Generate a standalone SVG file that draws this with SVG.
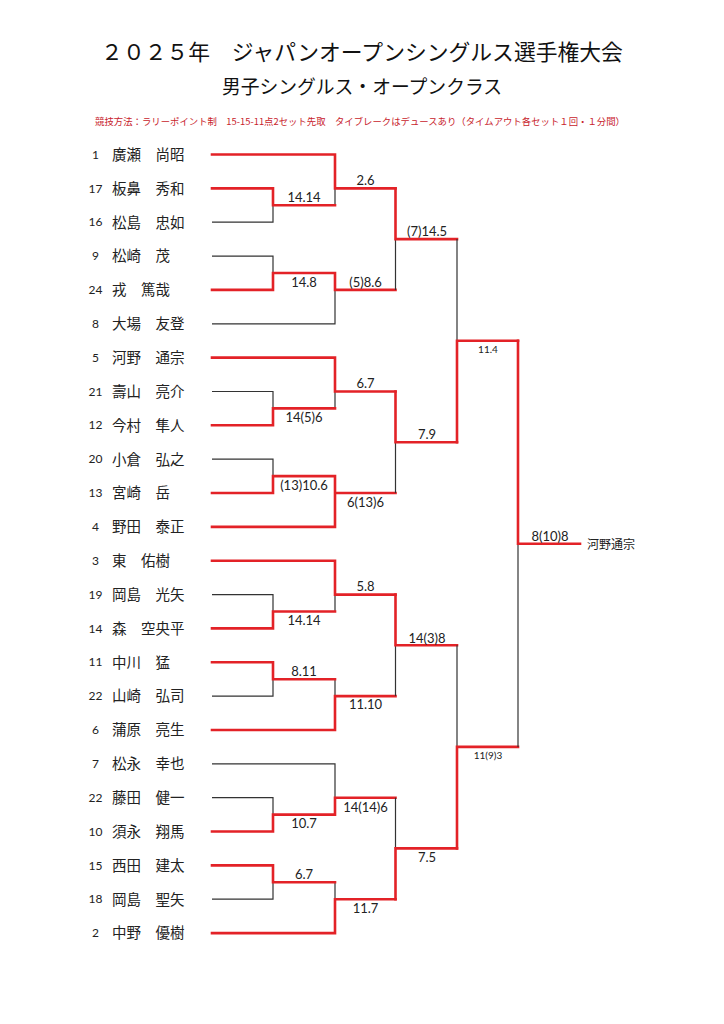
<svg xmlns="http://www.w3.org/2000/svg" width="724" height="1024" viewBox="0 0 724 1024">
<style>
  .title{font-family:"Noto Sans CJK JP","Noto Sans",sans-serif;fill:#111;text-anchor:middle}
  .rule{font-family:"Noto Sans CJK JP","Noto Sans",sans-serif;font-size:9.4px;fill:#c8232c;text-anchor:middle}
  .seed{font-family:Lato,"Liberation Sans",sans-serif;font-size:12px;fill:#222;text-anchor:middle}
  .name{font-family:"Noto Sans CJK JP",sans-serif;font-size:14.5px;fill:#222}
  .champ{font-family:"Noto Sans CJK JP",sans-serif;font-size:12px;fill:#222}
  .sc{font-family:Lato,"Liberation Sans",sans-serif;font-size:13px;fill:#222;text-anchor:middle}
  .ss{font-family:Lato,"Liberation Sans",sans-serif;font-size:10px;fill:#222;text-anchor:middle}
  .r{stroke:#e32227;stroke-width:2.6;fill:none;stroke-linecap:square}
  .k{stroke:#333;stroke-width:1.2;fill:none}
</style>
<rect width="724" height="1024" fill="#fff"/>
<g id="header">
  <text class="title" x="362" y="59.5" style="font-size:21.8px">２０２５年　ジャパンオープンシングルス選手権大会</text>
  <text class="title" x="362" y="94" style="font-size:18.8px">男子シングルス・オープンクラス</text>
  <text class="rule" x="360" y="124.5">競技方法：ラリーポイント制　15-15-11点2セット先取　タイブレークはデュースあり（タイムアウト各セット１回・１分間）</text>
</g>
<g id="players">
  <g id="p0"><text class="seed" x="95.5" y="158.6">1</text><text class="name" x="112" y="159.8">廣瀬　尚昭</text></g>
  <g id="p1"><text class="seed" x="95.5" y="192.5">17</text><text class="name" x="112" y="193.7">板鼻　秀和</text></g>
  <g id="p2"><text class="seed" x="95.5" y="226.3">16</text><text class="name" x="112" y="227.5">松島　忠如</text></g>
  <g id="p3"><text class="seed" x="95.5" y="260.2">9</text><text class="name" x="112" y="261.4">松崎　茂</text></g>
  <g id="p4"><text class="seed" x="95.5" y="294">24</text><text class="name" x="112" y="295.2">戎　篤哉</text></g>
  <g id="p5"><text class="seed" x="95.5" y="327.9">8</text><text class="name" x="112" y="329.1">大場　友登</text></g>
  <g id="p6"><text class="seed" x="95.5" y="361.7">5</text><text class="name" x="112" y="362.9">河野　通宗</text></g>
  <g id="p7"><text class="seed" x="95.5" y="395.6">21</text><text class="name" x="112" y="396.8">壽山　亮介</text></g>
  <g id="p8"><text class="seed" x="95.5" y="429.4">12</text><text class="name" x="112" y="430.6">今村　隼人</text></g>
  <g id="p9"><text class="seed" x="95.5" y="463.3">20</text><text class="name" x="112" y="464.5">小倉　弘之</text></g>
  <g id="p10"><text class="seed" x="95.5" y="497.1">13</text><text class="name" x="112" y="498.3">宮崎　岳</text></g>
  <g id="p11"><text class="seed" x="95.5" y="531">4</text><text class="name" x="112" y="532.2">野田　泰正</text></g>
  <g id="p12"><text class="seed" x="95.5" y="564.8">3</text><text class="name" x="112" y="566">東　佑樹</text></g>
  <g id="p13"><text class="seed" x="95.5" y="598.7">19</text><text class="name" x="112" y="599.9">岡島　光矢</text></g>
  <g id="p14"><text class="seed" x="95.5" y="632.5">14</text><text class="name" x="112" y="633.7">森　空央平</text></g>
  <g id="p15"><text class="seed" x="95.5" y="666.4">11</text><text class="name" x="112" y="667.6">中川　猛</text></g>
  <g id="p16"><text class="seed" x="95.5" y="700.2">22</text><text class="name" x="112" y="701.4">山崎　弘司</text></g>
  <g id="p17"><text class="seed" x="95.5" y="734.1">6</text><text class="name" x="112" y="735.3">蒲原　亮生</text></g>
  <g id="p18"><text class="seed" x="95.5" y="767.9">7</text><text class="name" x="112" y="769.1">松永　幸也</text></g>
  <g id="p19"><text class="seed" x="95.5" y="801.8">22</text><text class="name" x="112" y="803">藤田　健一</text></g>
  <g id="p20"><text class="seed" x="95.5" y="835.6">10</text><text class="name" x="112" y="836.8">須永　翔馬</text></g>
  <g id="p21"><text class="seed" x="95.5" y="869.5">15</text><text class="name" x="112" y="870.7">西田　建太</text></g>
  <g id="p22"><text class="seed" x="95.5" y="903.3">18</text><text class="name" x="112" y="904.5">岡島　聖矢</text></g>
  <g id="p23"><text class="seed" x="95.5" y="937.2">2</text><text class="name" x="112" y="938.4">中野　優樹</text></g>
</g>
<g id="connectors">
  <path class="k" d="M212 222.2H273V205.3M335 188.4V205.3"/>
  <path class="r" d="M212 154.5H335V188.4H395.5M212 188.4H273V205.3H335"/>
  <path class="k" d="M212 256.1H273V273M212 323.8H335V289.9"/>
  <path class="r" d="M212 289.9H273V273H335V289.9H395.5"/>
  <path class="k" d="M212 391.5H273V408.4M335 391.5V408.4"/>
  <path class="r" d="M212 357.6H335V391.5H395.5M212 425.3H273V408.4H335"/>
  <path class="k" d="M212 459.2H273V476.1"/>
  <path class="r" d="M212 493H273V476.1H335V526.9H212M335 493H395.5"/>
  <path class="k" d="M212 594.6H273V611.5M335 594.6V611.5"/>
  <path class="r" d="M212 560.7H335V594.6H395.5M212 628.4H273V611.5H335"/>
  <path class="k" d="M212 696.1H273V679.2M335 679.2V696.1"/>
  <path class="r" d="M212 662.3H273V679.2H335M212 730H335V696.1H395.5"/>
  <path class="k" d="M212 763.8H335V797.7M212 797.7H273V814.6"/>
  <path class="r" d="M212 831.5H273V814.6H335V797.7H395.5"/>
  <path class="k" d="M212 899.2H273V882.3M335 882.3V899.2"/>
  <path class="r" d="M212 865.4H273V882.3H335M212 933.1H335V899.2H395.5"/>
  <path class="k" d="M395.5 239.1V289.9M395.5 442.2V493M395.5 645.3V696.1M395.5 797.7V848.4"/>
  <path class="r" d="M395.5 188.4V239.1H457M395.5 391.5V442.2H457M395.5 594.6V645.3H457M395.5 899.2V848.4H457"/>
  <path class="k" d="M457 239.1V340.7M457 645.3V746.9"/>
  <path class="r" d="M457 442.2V340.7H518M457 848.4V746.9H518"/>
  <path class="k" d="M518 543.8V746.9"/>
  <path class="r" d="M518 340.7V543.8H580"/>
</g>
<g id="scores">
  <text class="sc" x="304" y="201.7">14.14</text>
  <text class="sc" x="304" y="286.7">14.8</text>
  <text class="sc" x="304" y="422.3">14(5)6</text>
  <text class="sc" x="304" y="490">(13)10.6</text>
  <text class="sc" x="304" y="625">14.14</text>
  <text class="sc" x="304" y="676">8.11</text>
  <text class="sc" x="304" y="828.3">10.7</text>
  <text class="sc" x="304" y="879.3">6.7</text>
  <text class="sc" x="365.5" y="185">2.6</text>
  <text class="sc" x="365.5" y="286.7">(5)8.6</text>
  <text class="sc" x="365.5" y="387.7">6.7</text>
  <text class="sc" x="365.5" y="506.7">6(13)6</text>
  <text class="sc" x="365.5" y="591">5.8</text>
  <text class="sc" x="365.5" y="709.3">11.10</text>
  <text class="sc" x="365.5" y="811.7">14(14)6</text>
  <text class="sc" x="365.5" y="912.7">11.7</text>
  <text class="sc" x="427" y="235.7">(7)14.5</text>
  <text class="sc" x="427" y="439">7.9</text>
  <text class="sc" x="427" y="642.7">14(3)8</text>
  <text class="sc" x="427" y="861.7">7.5</text>
  <text class="ss" x="488" y="353.3">11.4</text>
  <text class="ss" x="488" y="759.3">11(9)3</text>
  <text class="sc" x="550" y="540.7">8(10)8</text>
</g>
<g id="champion">
  <text class="champ" x="587" y="548.5">河野通宗</text>
</g>
</svg>
